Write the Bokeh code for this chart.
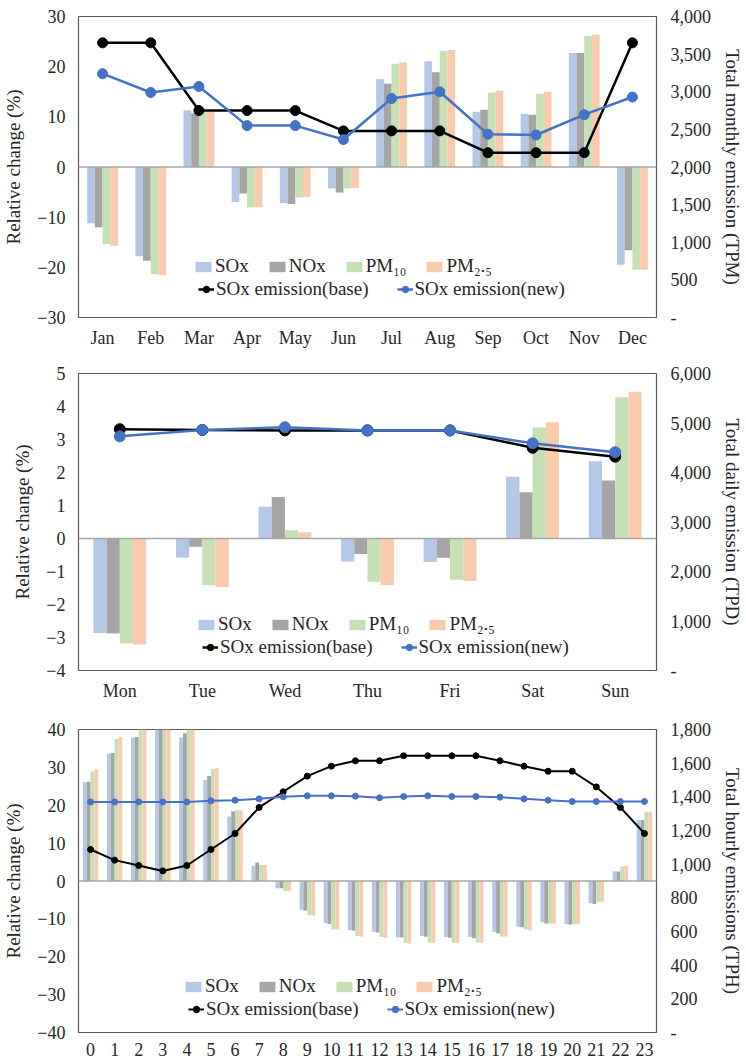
from bokeh.plotting import figure
from bokeh.models import (FactorRange, Range1d, LinearAxis, FixedTicker,
                          CustomJSTickFormatter, Span, Legend, LegendItem,
                          ColumnDataSource)
from bokeh.transform import dodge
from bokeh.layouts import column
from bokeh.embed import file_html
from bokeh.resources import INLINE

# ---------------- data ----------------
months = ["Jan", "Feb", "Mar", "Apr", "May", "Jun", "Jul", "Aug", "Sep", "Oct", "Nov", "Dec"]
m_sox = [-11.2, -17.8, 11.3, -7.0, -7.2, -4.3, 17.5, 21.1, 11.0, 10.6, 22.7, -19.5]
m_nox = [-12.0, -18.7, 10.7, -5.3, -7.4, -5.1, 16.6, 18.9, 11.4, 10.4, 22.7, -16.6]
m_pm10 = [-15.4, -21.4, 11.2, -8.0, -6.1, -4.3, 20.6, 23.1, 14.8, 14.6, 26.1, -20.5]
m_pm25 = [-15.7, -21.6, 11.0, -8.0, -6.0, -4.2, 20.9, 23.3, 15.2, 15.0, 26.4, -20.5]
m_base = [3650, 3650, 2750, 2750, 2750, 2480, 2480, 2480, 2190, 2190, 2190, 3650]
m_new = [3240, 2990, 3070, 2550, 2550, 2365, 2910, 3000, 2435, 2425, 2695, 2930]

days = ["Mon", "Tue", "Wed", "Thu", "Fri", "Sat", "Sun"]
d_sox = [-2.86, -0.58, 0.96, -0.70, -0.71, 1.87, 2.34]
d_nox = [-2.88, -0.25, 1.26, -0.47, -0.58, 1.40, 1.76]
d_pm10 = [-3.18, -1.42, 0.25, -1.31, -1.25, 3.36, 4.28]
d_pm25 = [-3.21, -1.47, 0.19, -1.41, -1.29, 3.52, 4.45]
d_base = [4875, 4860, 4850, 4850, 4850, 4500, 4320]
d_new = [4730, 4860, 4915, 4850, 4850, 4590, 4410]

hours = ["0", "1", "2", "3", "4", "5", "6", "7", "8", "9", "10", "11",
         "12", "13", "14", "15", "16", "17", "18", "19", "20", "21", "22", "23"]
h_sox = [26.1, 33.6, 37.8, 42.5, 37.9, 26.7, 17.0, 4.0, -1.9, -7.6, -11.1, -13.0,
         -13.4, -14.9, -14.5, -14.8, -14.8, -13.5, -12.1, -10.9, -11.4, -5.9, 2.6, 16.1]
h_nox = [26.2, 33.8, 38.0, 43.0, 39.0, 27.7, 18.4, 4.9, -1.9, -7.8, -11.4, -13.1,
         -13.6, -14.9, -14.7, -15.0, -15.1, -13.8, -12.2, -11.2, -11.5, -6.1, 2.5, 16.1]
h_pm10 = [29.0, 37.5, 41.5, 46.0, 41.5, 29.6, 18.7, 4.2, -2.6, -9.0, -12.8, -14.5,
          -14.8, -16.3, -16.3, -16.3, -16.3, -14.7, -12.8, -11.2, -11.4, -5.5, 3.8, 18.3]
h_pm25 = [29.5, 38.0, 42.0, 46.5, 42.0, 29.9, 18.7, 4.2, -2.7, -9.1, -12.8, -14.7,
          -15.0, -16.5, -16.3, -16.3, -16.3, -14.7, -13.0, -11.2, -11.4, -5.5, 4.0, 18.3]
h_base = [1087, 1024, 992, 960, 992, 1087, 1182, 1337, 1430, 1523, 1582, 1614,
          1614, 1644, 1644, 1644, 1644, 1614, 1582, 1552, 1552, 1459, 1337, 1182]
h_new = [1370, 1370, 1370, 1370, 1370, 1376, 1380, 1388, 1400, 1406, 1406, 1404,
         1394, 1402, 1406, 1402, 1402, 1398, 1388, 1380, 1372, 1372, 1372, 1372]

series_labels = ["SOx", "NOx", "PM\u2081\u2080", "PM\u2082.\u2085"]
line_labels = ["SOx emission(base)", "SOx emission(new)"]

# ---------------- style ----------------
FONT = "Liberation Serif"
BAR_COLORS = ["#b4c7e7", "#a5a5a5", "#c5e0b4", "#f8cbad"]
BASE_COLOR = "#000000"
NEW_COLOR = "#4472c4"
TEXT_COLOR = "#262626"
OFFSETS = [-0.24, -0.08, 0.08, 0.24]
BAR_W = 0.16


def panel(cats, bars, base, new, yrange, yticks, rrange, rticks, rtitle,
          height, top, bottom, msize, lw, leg1, leg2):
    src = ColumnDataSource(dict(cat=cats, s0=bars[0], s1=bars[1], s2=bars[2],
                                s3=bars[3], base=base, new=new))
    p = figure(x_range=FactorRange(*cats, range_padding=0, factor_padding=0),
               y_range=Range1d(*yrange), width=746, height=height,
               min_border_left=73, min_border_right=83, min_border_top=top,
               min_border_bottom=bottom, output_backend="svg",
               toolbar_location=None)
    p.extra_y_ranges = {"r": Range1d(*rrange)}
    p.xgrid.visible = False
    p.ygrid.visible = False
    p.outline_line_color = "#595959"
    p.outline_line_width = 1.2
    p.background_fill_color = "white"
    p.border_fill_color = "white"

    bar_r = []
    for i, key in enumerate(["s0", "s1", "s2", "s3"]):
        r = p.vbar(x=dodge("cat", OFFSETS[i], range=p.x_range), top=key, bottom=0,
                   width=BAR_W, source=src, fill_color=BAR_COLORS[i],
                   line_color=None)
        bar_r.append(r)

    p.add_layout(Span(location=0, dimension="width", line_color="#a6a6a6",
                      line_width=1.5))

    lb = p.line(x="cat", y="base", source=src, y_range_name="r",
                line_color=BASE_COLOR, line_width=lw)
    sb = p.scatter(x="cat", y="base", source=src, y_range_name="r", size=msize,
                   fill_color=BASE_COLOR, line_color=BASE_COLOR)
    ln = p.line(x="cat", y="new", source=src, y_range_name="r",
                line_color=NEW_COLOR, line_width=lw)
    sn = p.scatter(x="cat", y="new", source=src, y_range_name="r", size=msize,
                   fill_color=NEW_COLOR, line_color=NEW_COLOR)

    # axes
    xa = p.xaxis[0]
    xa.axis_line_color = None
    xa.major_tick_line_color = None
    xa.major_label_standoff = 4
    xa.major_label_text_font = FONT
    xa.major_label_text_font_size = "18px"
    xa.major_label_text_color = TEXT_COLOR

    ya = p.yaxis[0]
    ya.ticker = FixedTicker(ticks=yticks)
    ya.axis_line_color = None
    ya.major_tick_line_color = None
    ya.minor_tick_line_color = None
    ya.major_label_standoff = 7
    ya.major_label_text_font = FONT
    ya.major_label_text_font_size = "18px"
    ya.major_label_text_color = TEXT_COLOR
    ya.axis_label = "Relative change (%)"
    ya.axis_label_standoff = 10
    ya.axis_label_text_font = FONT
    ya.axis_label_text_font_size = "19px"
    ya.axis_label_text_font_style = "normal"
    ya.axis_label_text_color = TEXT_COLOR

    ra = LinearAxis(y_range_name="r", ticker=FixedTicker(ticks=rticks),
                    formatter=CustomJSTickFormatter(code="""
                        return tick == 0 ? "-" : tick.toLocaleString("en-US");
                    """))
    ra.axis_line_color = None
    ra.major_tick_line_color = None
    ra.minor_tick_line_color = None
    ra.major_label_standoff = 8
    ra.major_label_text_font = FONT
    ra.major_label_text_font_size = "18px"
    ra.major_label_text_color = TEXT_COLOR
    ra.axis_label = rtitle
    ra.axis_label_standoff = 8
    ra.axis_label_text_font = FONT
    ra.axis_label_text_font_size = "19px"
    ra.axis_label_text_font_style = "normal"
    ra.axis_label_text_color = TEXT_COLOR
    p.add_layout(ra, "right")

    # legends (two rows)
    l1 = Legend(items=[LegendItem(label=series_labels[i], renderers=[bar_r[i]])
                       for i in range(4)],
                orientation="horizontal", location=leg1, padding=0, margin=0,
                spacing=18, label_standoff=2, glyph_width=20, glyph_height=13,
                label_height=18, background_fill_alpha=0, border_line_alpha=0,
                label_text_font=FONT, label_text_font_size="19px",
                label_text_color=TEXT_COLOR)
    l2 = Legend(items=[LegendItem(label=line_labels[0], renderers=[lb, sb]),
                       LegendItem(label=line_labels[1], renderers=[ln, sn])],
                orientation="horizontal", location=leg2, padding=0, margin=0,
                spacing=28, label_standoff=2, glyph_width=16, glyph_height=18,
                label_height=18, background_fill_alpha=0, border_line_alpha=0,
                label_text_font=FONT, label_text_font_size="19px",
                label_text_color=TEXT_COLOR)
    p.add_layout(l1)
    p.add_layout(l2)
    return p


p1 = panel(months, [m_sox, m_nox, m_pm10, m_pm25], m_base, m_new,
           (-30, 30), [-30, -20, -10, 0, 10, 20, 30],
           (0, 4000), [0, 500, 1000, 1500, 2000, 2500, 3000, 3500, 4000],
           "Total monthly emission (TPM)", 353, 16, 36, 10, 2.5,
           (115, 40), (120, 17))
p2 = panel(days, [d_sox, d_nox, d_pm10, d_pm25], d_base, d_new,
           (-4, 5), [-4, -3, -2, -1, 0, 1, 2, 3, 4, 5],
           (0, 6000), [0, 1000, 2000, 3000, 4000, 5000, 6000],
           "Total daily emission (TPD)", 353, 20, 36, 11, 2.5,
           (118, 35), (124, 12))
p3 = panel(hours, [h_sox, h_nox, h_pm10, h_pm25], h_base, h_new,
           (-40, 40), [-40, -30, -20, -10, 0, 10, 20, 30, 40],
           (0, 1800), [0, 200, 400, 600, 800, 1000, 1200, 1400, 1600, 1800],
           "Total hourly emissions (TPH)", 355, 23, 29, 6, 2,
           (105, 35), (110, 12))

layout = column(p1, p2, p3, spacing=0)
open("out.html", "w").write(file_html(layout, INLINE))
